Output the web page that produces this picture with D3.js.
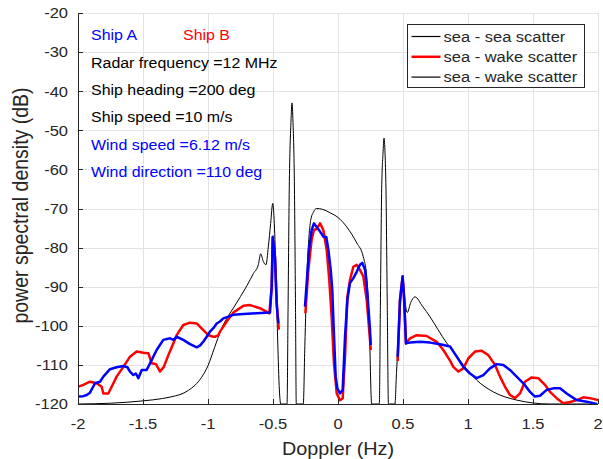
<!DOCTYPE html>
<html>
<head>
<meta charset="utf-8">
<script src="https://cdn.jsdelivr.net/npm/d3@7/dist/d3.min.js"></script>
<style>
  body { margin: 0; background: #ffffff; }
  text { font-family: "Liberation Sans", Arial, sans-serif; fill: #262626; }
</style>
</head>
<body>
<div id="chart"></div>
<script>
// sea - sea scatter (black)
var dopplerSea = [-2.0, -1.75, -1.5, -1.35, -1.25, -1.2, -1.15, -1.1, -1.05, -1.0, -0.95, -0.9, -0.85, -0.8, -0.75, -0.7, -0.65,
  -0.613, -0.595, -0.574, -0.554, -0.536, -0.518, -0.502, -0.49, -0.477, -0.464, -0.451, -0.44, -0.4,
  -0.392, -0.384, -0.375, -0.362, -0.354, -0.346, -0.335, -0.327, -0.321, -0.267,
  -0.255, -0.24, -0.225, -0.21, -0.19, -0.165, -0.12, -0.06, 0.0, 0.067, 0.144, 0.194, 0.221, 0.24, 0.259, 0.318,
  0.326, 0.336, 0.346, 0.354, 0.362, 0.369, 0.379, 0.388, 0.438,
  0.45, 0.47, 0.485, 0.497, 0.51, 0.533, 0.56, 0.592, 0.65, 0.708, 0.77, 0.836, 0.9, 0.964, 1.067, 1.195, 1.375, 1.63, 2.0];
var psdSea = [-120, -119.8, -119.2, -118.6, -117.9, -117.4, -116.5, -115.2, -113.2, -110.2, -105.6, -101.0, -97.8, -95.2, -92.5, -89.7, -86.6,
  -84.4, -81.6, -83.6, -84.4, -79.8, -73.8, -68.7, -73.8, -86.6, -103.6, -116.4, -120, -120,
  -120, -95, -65, -48, -43, -48, -65, -95, -120, -120,
  -105, -88, -78, -73, -71, -70, -70.2, -71.1, -72.3, -74.7, -78.8, -82.3, -87.4, -99.3, -120, -120,
  -95, -65, -56, -52, -56, -65, -95, -120, -120,
  -112, -100, -92, -87, -92, -96.6, -94, -92.6, -95, -97.7, -101, -104.4, -107, -110, -113.9, -116.9, -119, -120, -120];

// Ship A (blue), null = gap
var dopplerShipA = [-2.0, -1.96, -1.933, -1.908, -1.869, -1.831, -1.805, -1.754, -1.703, -1.651, -1.62, -1.6, -1.574, -1.555,
  -1.536, -1.51, -1.472, -1.446, -1.395, -1.344, -1.292, -1.266, -1.241, -1.19, -1.138, -1.087, -1.06, -1.035, -1.01,
  -0.985, -0.959, -0.933, -0.908, -0.882, -0.805, -0.728, -0.626, -0.523, -0.51, -0.502, -0.485, -0.472, -0.459,
  -0.35,
  -0.254, -0.241, -0.223, -0.203, -0.185, -0.165, -0.138, -0.113, -0.09, -0.074, -0.056, -0.044, -0.036, -0.018, -0.005,
  0.015, 0.036, 0.054, 0.072, 0.092, 0.118, 0.144, 0.169, 0.187, 0.208, 0.226, 0.246, 0.252,
  0.35,
  0.459, 0.477, 0.497, 0.508, 0.523, 0.554, 0.631, 0.708, 0.785, 0.862, 0.913, 0.964, 1.015, 1.067, 1.118, 1.169, 1.221,
  1.272, 1.323, 1.374, 1.426, 1.477, 1.515, 1.554, 1.605, 1.656, 1.708, 1.759, 1.836, 1.913, 1.99];
var psdShipA = [-118.1, -118.0, -117.7, -117.1, -114.7, -114.3, -113.0, -111.1, -110.6, -110.3, -110.6, -111.7, -112.6, -112.2,
  -113.4, -111.3, -111.3, -109.6, -106.2, -103.6, -103.2, -103.6, -102.8, -103.6, -104.7, -105.5, -105.0, -104.0, -102.8,
  -101.5, -100.6, -99.4, -98.9, -98.1, -97.2, -97.0, -96.8, -96.6, -90, -77.2, -82.3, -94.2, -99.4,
  null,
  -95.1, -89.1, -80.6, -75.5, -73.8, -74.7, -75.9, -77.2, -77.3, -80.6, -85.7, -90.8, -98, -113, -116,
  -117.3, -116.4, -102.8, -93.4, -89.1, -87.8, -86.2, -84.4, -83.9, -85.7, -91.7, -101, -104.9,
  null,
  -107.9, -93.4, -87.4, -92.6, -104.5, -104.3, -104.1, -104.3, -104.7, -105.3, -107.9, -110.5, -112.2, -113.4, -112.6, -110.9, -109.8,
  -110.0, -111.3, -113.0, -114.7, -116.9, -118.1, -117.9, -116.4, -116.0, -116.0, -117.3, -119.0, -119.4, -120.0];

// Ship B (red), null = gap
var dopplerShipB = [-2.0, -1.959, -1.908, -1.856, -1.818, -1.805, -1.767, -1.741, -1.703, -1.651, -1.6, -1.549, -1.497, -1.459,
  -1.433, -1.4, -1.369, -1.34, -1.305, -1.267, -1.241, -1.19, -1.138, -1.087, -1.036, -0.997, -0.959, -0.946, -0.92, -0.908,
  -0.856, -0.805, -0.728, -0.677, -0.6, -0.528, -0.51, -0.502, -0.485, -0.47, -0.455,
  -0.35,
  -0.251, -0.228, -0.203, -0.185, -0.165, -0.15, -0.138, -0.113, -0.087, -0.067, -0.049, -0.031, -0.01, 0.015, 0.036,
  0.054, 0.072, 0.092, 0.118, 0.144, 0.169, 0.195, 0.221, 0.246, 0.252,
  0.35,
  0.459, 0.477, 0.497, 0.508, 0.523, 0.554, 0.605, 0.682, 0.759, 0.81, 0.862, 0.887, 0.926, 0.964, 1.003, 1.054, 1.105,
  1.156, 1.208, 1.246, 1.285, 1.323, 1.362, 1.4, 1.438, 1.49, 1.541, 1.592, 1.631, 1.682, 1.733, 1.785, 1.836, 1.887,
  1.938, 2.0];
var psdShipB = [-115.6, -115.1, -114.3, -114.7, -115.6, -117.3, -117.3, -115.6, -113.0, -110.5, -107.9, -106.6, -106.9, -107.0,
  -109.6, -109.8, -111.7, -110.5, -107.5, -104.5, -102.4, -99.8, -99.2, -99.4, -101.1, -102.4, -102.8, -102.8, -102.4, -101.5,
  -98.9, -96.6, -94.9, -94.7, -95.5, -96.8, -90, -77.5, -82.5, -95, -101,
  null,
  -96.8, -85.7, -78.0, -75.5, -75.2, -74.5, -73.8, -75.5, -80.6, -88.3, -97.7, -109.6, -117.3, -119.0, -118.6,
  -107.9, -92.6, -88.3, -84.9, -84.4, -85.7, -87.4, -93.4, -103.6, -106.2,
  null,
  -109.0, -93.4, -87.4, -92.6, -104.5, -103.2, -102.4, -102.6, -104.1, -106.2, -108.9, -110.5, -111.7, -110.9, -108.3, -106.6, -106.4,
  -107.5, -110.0, -113.0, -115.6, -117.7, -118.5, -117.3, -114.3, -113.2, -113.4, -115.1, -116.9, -118.5, -119.8, -119.5, -119.0, -118.3,
  -118.5, -119.0];

var xTicks = [-2, -1.5, -1, -0.5, 0, 0.5, 1, 1.5, 2];
var yTicks = [-120, -110, -100, -90, -80, -70, -60, -50, -40, -30, -20];
var legendLabels = ["sea - sea scatter", "sea - wake scatter", "sea - wake scatter"];
var legendColors = ["#000000", "#ff0000", "#000000"];
var shipLabels = ["Ship A", "Ship B"];
var noteLines = ["Radar frequency =12 MHz", "Ship heading =200 deg", "Ship speed =10 m/s", "Wind speed =6.12 m/s", "Wind direction =110 deg"];
var noteColors = ["#000000", "#000000", "#000000", "#0000ff", "#0000ff"];

// set the dimensions and margins of the graph
var margin = {top: 13, right: 5, bottom: 55, left: 78},
    width = 603 - margin.left - margin.right,
    height = 459 - margin.top - margin.bottom;

// text in the reference is a little wider than tall
var squeeze = "scale(1.1,1)";

var svg = d3.select("#chart").append("svg")
    .attr("width", 603)
    .attr("height", 459);

var g = svg.append("g")
    .attr("transform", "translate(" + margin.left + "," + margin.top + ")");

var x = d3.scaleLinear().domain([-2, 2]).range([0, width]),
    y = d3.scaleLinear().domain([-120, -20]).range([height, 0]);

svg.append("defs").append("clipPath").attr("id", "plotclip")
  .append("rect").attr("width", width).attr("height", height + 1);

//Grid
g.selectAll(".gridx").data(xTicks).enter().append("line")
    .attr("x1", function(d) { return Math.round(x(d)) + 0.5; })
    .attr("x2", function(d) { return Math.round(x(d)) + 0.5; })
    .attr("y1", 0).attr("y2", height)
    .style("stroke", "#e3e3e3");
g.selectAll(".gridy").data(yTicks).enter().append("line")
    .attr("y1", function(d) { return Math.round(y(d)) + 0.5; })
    .attr("y2", function(d) { return Math.round(y(d)) + 0.5; })
    .attr("x1", 0).attr("x2", width)
    .style("stroke", "#e3e3e3");

//Curves
var plot = g.append("g").attr("clip-path", "url(#plotclip)");

function drawSeries(xs, ys, color, w, curve) {
  var pts = xs.map(function(d, i) { return [d, ys[i]]; });
  var line = d3.line()
      .defined(function(d) { return d[1] !== null; })
      .curve(curve)
      .x(function(d) { return x(d[0]); })
      .y(function(d) { return y(d[1]); });
  plot.append("path")
      .datum(pts)
      .attr("d", line)
      .style("fill", "none")
      .style("stroke", color)
      .style("stroke-width", w)
      .style("stroke-linejoin", "round");
}
drawSeries(dopplerSea, psdSea, "#000000", 1, d3.curveMonotoneX);
drawSeries(dopplerShipB, psdShipB, "#ff0000", 2.5, d3.curveLinear);
drawSeries(dopplerShipA, psdShipA, "#0000ff", 2.5, d3.curveLinear);

//Axes lines and inward ticks
g.append("line").attr("x1", 0.5).attr("x2", 0.5).attr("y1", 0).attr("y2", height + 0.5)
    .style("stroke", "#262626");
g.append("line").attr("x1", 0).attr("x2", width).attr("y1", height + 0.5).attr("y2", height + 0.5)
    .style("stroke", "#262626");
g.selectAll(".tickx").data(xTicks).enter().append("line")
    .attr("x1", function(d) { return Math.round(x(d)) + 0.5; })
    .attr("x2", function(d) { return Math.round(x(d)) + 0.5; })
    .attr("y1", height).attr("y2", height - 5)
    .style("stroke", "#262626");
g.selectAll(".ticky").data(yTicks).enter().append("line")
    .attr("y1", function(d) { return Math.round(y(d)) + 0.5; })
    .attr("y2", function(d) { return Math.round(y(d)) + 0.5; })
    .attr("x1", 0).attr("x2", 5)
    .style("stroke", "#262626");

//Tick labels
g.selectAll(".xlab").data(xTicks).enter().append("text")
    .attr("transform", function(d) { return "translate(" + x(d) + "," + (height + 24.5) + ") " + squeeze; })
    .attr("text-anchor", "middle")
    .style("font-size", "15px")
    .text(function(d) { return String(d); });
g.selectAll(".ylab").data(yTicks).enter().append("text")
    .attr("transform", function(d) { return "translate(-10," + (y(d) + 5.3) + ") " + squeeze; })
    .attr("text-anchor", "end")
    .style("font-size", "15px")
    .text(function(d) { return String(d); });

//Axis titles
g.append("text")
    .attr("transform", "translate(" + (width / 2) + "," + (height + 51) + ") " + squeeze)
    .attr("text-anchor", "middle")
    .style("font-size", "18px")
    .text("Doppler (Hz)");
g.append("text")
    .attr("transform", "translate(-50," + (height / 2 - 3) + ") rotate(-90) scale(1,1.1)")
    .attr("text-anchor", "middle")
    .style("font-size", "19.5px")
    .text("power spectral density (dB)");

//Annotations
g.selectAll(".ship").data(shipLabels).enter().append("text")
    .attr("transform", function(d, i) { return "translate(" + (13 + i * 92) + ",27) " + squeeze; })
    .style("font-size", "14.5px")
    .style("fill", function(d, i) { return i === 0 ? "#0000ff" : "#ff0000"; })
    .text(function(d) { return d; });
g.selectAll(".note").data(noteLines).enter().append("text")
    .attr("transform", function(d, i) { return "translate(13," + (54.5 + i * 27.4) + ") " + squeeze; })
    .style("font-size", "14.5px")
    .style("fill", function(d, i) { return noteColors[i]; })
    .text(function(d) { return d; });

//Legend
var legend = svg.append("g").attr("transform", "translate(407.5,24.5)");
legend.append("rect")
    .attr("width", 177).attr("height", 63)
    .style("fill", "#ffffff")
    .style("stroke", "#262626")
    .style("stroke-width", 1);
legendLabels.forEach(function(label, i) {
  var ly = 12 + i * 20.3;
  legend.append("line")
      .attr("x1", 4).attr("x2", 33).attr("y1", ly).attr("y2", ly)
      .style("stroke", legendColors[i])
      .style("stroke-width", i === 1 ? 2.5 : 1.2);
  legend.append("text")
      .attr("transform", "translate(36," + (ly + 5.2) + ") " + squeeze)
      .style("font-size", "15px")
      .text(label);
});
</script>
</body>
</html>
